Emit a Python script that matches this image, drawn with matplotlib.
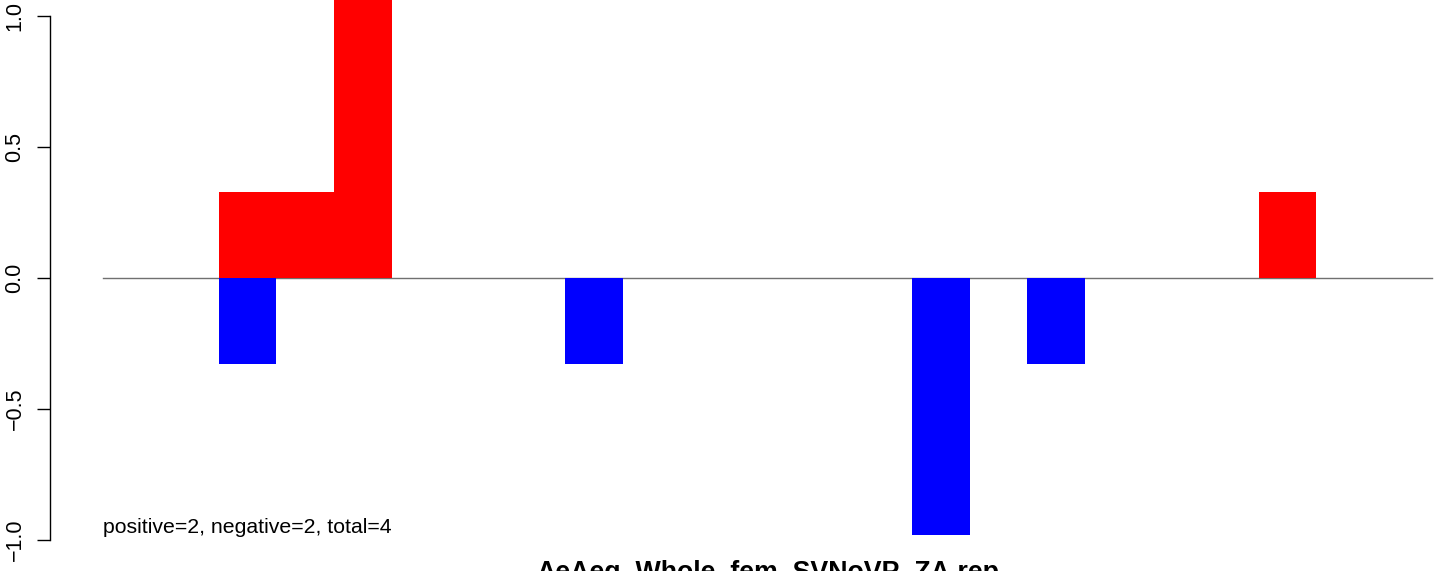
import matplotlib
matplotlib.use("Agg")
import matplotlib.pyplot as plt
import numpy as np

plt.rcParams['font.family'] = ['Liberation Sans', 'DejaVu Sans']

# data: 23 slots
slots = np.arange(23)
red_vals = [0, 0, 0.33, 0.33, 1.2, 0, 0, 0, 0, 0, 0, 0, 0, 0, 0, 0, 0, 0, 0, 0, 0.33, 0, 0]
blue_vals = [0, 0, -0.33, 0, 0, 0, 0, 0, -0.33, 0, 0, 0, 0, 0, -0.98, 0, -0.33, 0, 0, 0, 0, 0, 0]
yticks = [-1.0, -0.5, 0.0, 0.5, 1.0]
ytick_labels = ["\u22121.0", "\u22120.5", "0.0", "0.5", "1.0"]
title = "AeAeg_Whole_fem_SVNoVP_ZA.rep"
note = "positive=2, negative=2, total=4"

W, H = 1450, 571
fig = plt.figure(figsize=(W / 100, H / 100), dpi=100)
ax = fig.add_axes([0, 0, 1, 1])

pxu = 57.78
x0 = 103
zero_y = 278
pyu = 262
ax.set_xlim(-x0 / pxu, (W - x0) / pxu)
ax.set_ylim(-(H - zero_y) / pyu, zero_y / pyu)

ax.plot([0, 23], [0, 0], color="#707070", lw=1.0, zorder=1)
ax.bar(slots, red_vals, width=1.0, align="edge", color="#ff0000", linewidth=0, zorder=2)
ax.bar(slots, blue_vals, width=1.0, align="edge", color="#0000ff", linewidth=0, zorder=2)

for s in ["top", "right", "bottom"]:
    ax.spines[s].set_visible(False)
ax.spines["left"].set_position(("data", -0.92))
ax.spines["left"].set_bounds(-1, 1)
ax.spines["left"].set_linewidth(1.0)
ax.set_xticks([])
ax.set_yticks(yticks)
ax.set_yticklabels(ytick_labels, rotation=90, va="center", fontsize=15.5)
ax.tick_params(axis="y", length=9.5, width=1.0, pad=8)

ax.text(0, -0.973, note, fontsize=15.3, ha="left", va="baseline")
ax.text(11.5, -1.153, title, fontsize=19.3, fontweight="bold", ha="center", va="baseline", clip_on=False)

fig.savefig("out.png", dpi=100)
